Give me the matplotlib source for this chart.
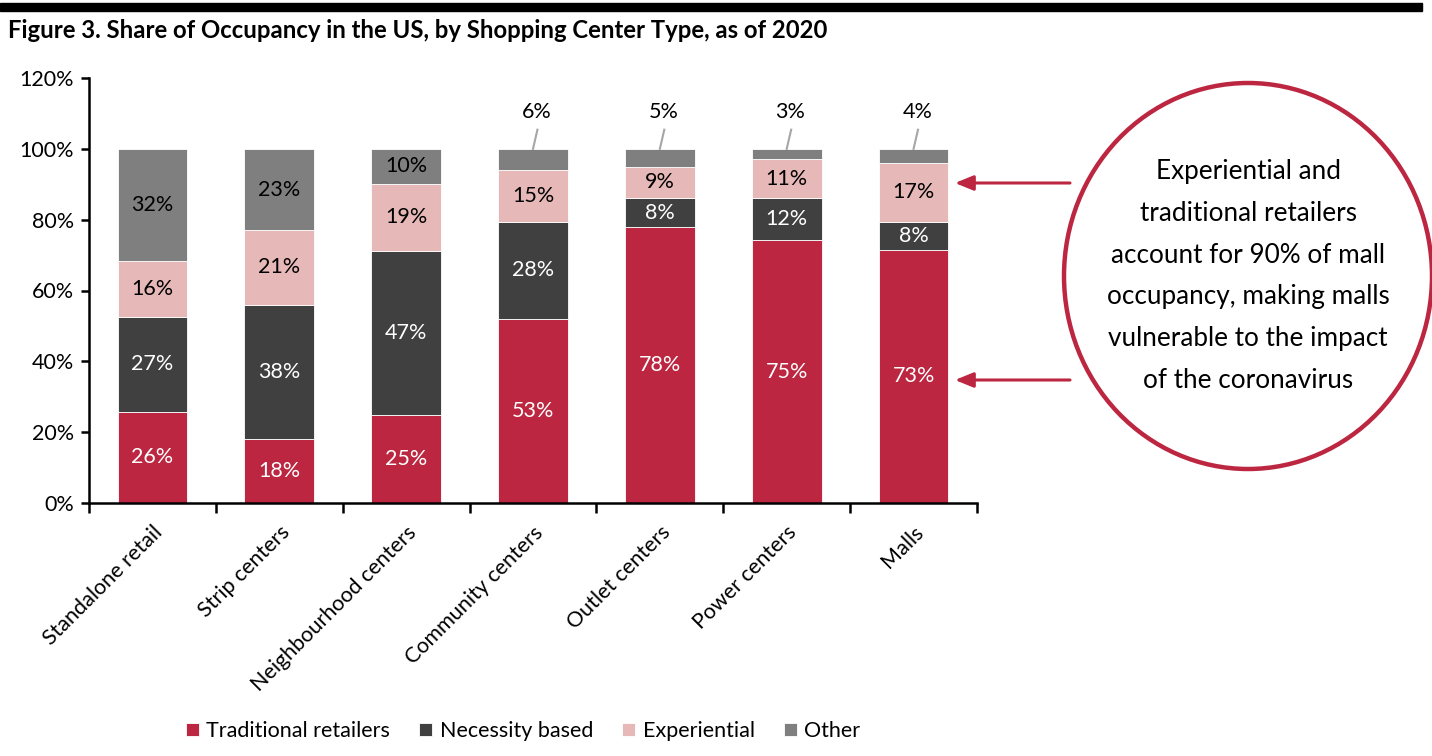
import numpy as np
import matplotlib.pyplot as plt
from matplotlib.patches import Ellipse, Rectangle

plt.rcParams["font.family"] = ["Lato", "DejaVu Sans"]

categories = ["Standalone retail", "Strip centers", "Neighbourhood centers",
              "Community centers", "Outlet centers", "Power centers", "Malls"]
traditional = [26, 18, 25, 53, 78, 75, 73]
necessity = [27, 38, 47, 28, 8, 12, 8]
experiential = [16, 21, 19, 15, 9, 11, 17]
other = [32, 23, 10, 6, 5, 3, 4]

series = [
    ("Traditional retailers", traditional, "#BC2640", "white"),
    ("Necessity based", necessity, "#404040", "white"),
    ("Experiential", experiential, "#E6B9B8", "black"),
    ("Other", other, "#7F7F7F", "black"),
]
yticks = [0, 20, 40, 60, 80, 100, 120]
FS = 15.5

fig = plt.figure(figsize=(14.32, 7.56), dpi=100)
ax = fig.add_axes([89 / 1432, 1 - 503 / 756, 888 / 1432, 425 / 756])

# 100% stacked: each column is scaled to its own total
totals = np.sum([s[1] for s in series], axis=0)
x = np.arange(len(categories))
bottom = np.zeros(len(categories))
for name, vals, color, tcol in series:
    share = np.array(vals) / totals * 100
    ax.bar(x, share, 0.55, bottom=bottom, color=color, edgecolor="white",
           linewidth=0.6, label=name)
    for i, v in enumerate(vals):
        if name == "Other" and i >= 3:
            ax.text(x[i] + 0.03, 110.3, f"{v}%", ha="center", va="center",
                    fontsize=FS, color="black")
            ax.plot([x[i], x[i] + 0.035], [100, 105.4], color="#A6A6A6", lw=1.5)
        else:
            ax.text(x[i], bottom[i] + share[i] / 2, f"{v}%", ha="center",
                    va="center", fontsize=FS, color=tcol)
    bottom += share

ax.set_xlim(-0.5, len(categories) - 0.5)
ax.set_ylim(0, 120)
ax.set_yticks(yticks)
ax.set_yticklabels([f"{t}%" for t in yticks], fontsize=FS)
ax.set_xticks(x)
ax.set_xticklabels(categories, rotation=45, ha="right", rotation_mode="anchor",
                   fontsize=FS)
ax.set_xticks(np.arange(-0.5, len(categories)), minor=True)
ax.tick_params(axis="x", which="major", length=0, pad=14)
ax.tick_params(axis="x", which="minor", length=7, width=1.8, direction="out")
ax.tick_params(axis="y", length=6, width=1.8, direction="out", pad=5)
for s in ["top", "right"]:
    ax.spines[s].set_visible(False)
for s in ["left", "bottom"]:
    ax.spines[s].set_linewidth(1.8)

# callout circle and arrows
red = "#BC2640"
fig.add_artist(Ellipse((1248 / 1432, 1 - 276 / 756), 368 / 1432, 386 / 756,
                       transform=fig.transFigure, fill=False, edgecolor=red,
                       linewidth=3.2))
for y_px in [183, 380]:
    yf = 1 - y_px / 756
    ax.annotate("", xy=(955 / 1432, yf), xycoords="figure fraction",
                xytext=(1070 / 1432, yf), textcoords="figure fraction",
                arrowprops=dict(arrowstyle="-|>,head_length=1.1,head_width=0.45",
                                color=red, lw=2.2, shrinkA=0, shrinkB=0))
callout = ("Experiential and\ntraditional retailers\naccount for 90% of mall\n"
           "occupancy, making malls\nvulnerable to the impact\nof the coronavirus")
fig.text(1248 / 1432, 1 - 276 / 756, callout, ha="center", va="center",
         fontsize=18.8, linespacing=1.84)

# header
fig.add_artist(Rectangle((0, 1 - 11 / 756), 1422 / 1432, 8 / 756,
                         transform=fig.transFigure, color="black"))
fig.text(8 / 1432, 1 - 30 / 756, "Figure 3. Share of Occupancy in the US, by Shopping Center Type, as of 2020",
         ha="left", va="center", fontsize=17.2, fontweight="bold")

fig.legend(loc="center", bbox_to_anchor=(523 / 1432, 1 - 731 / 756), ncol=4,
           frameon=False, fontsize=FS, handlelength=0.6, handleheight=0.6,
           columnspacing=1.35, handletextpad=0.35)

fig.savefig("out.png", dpi=100)
